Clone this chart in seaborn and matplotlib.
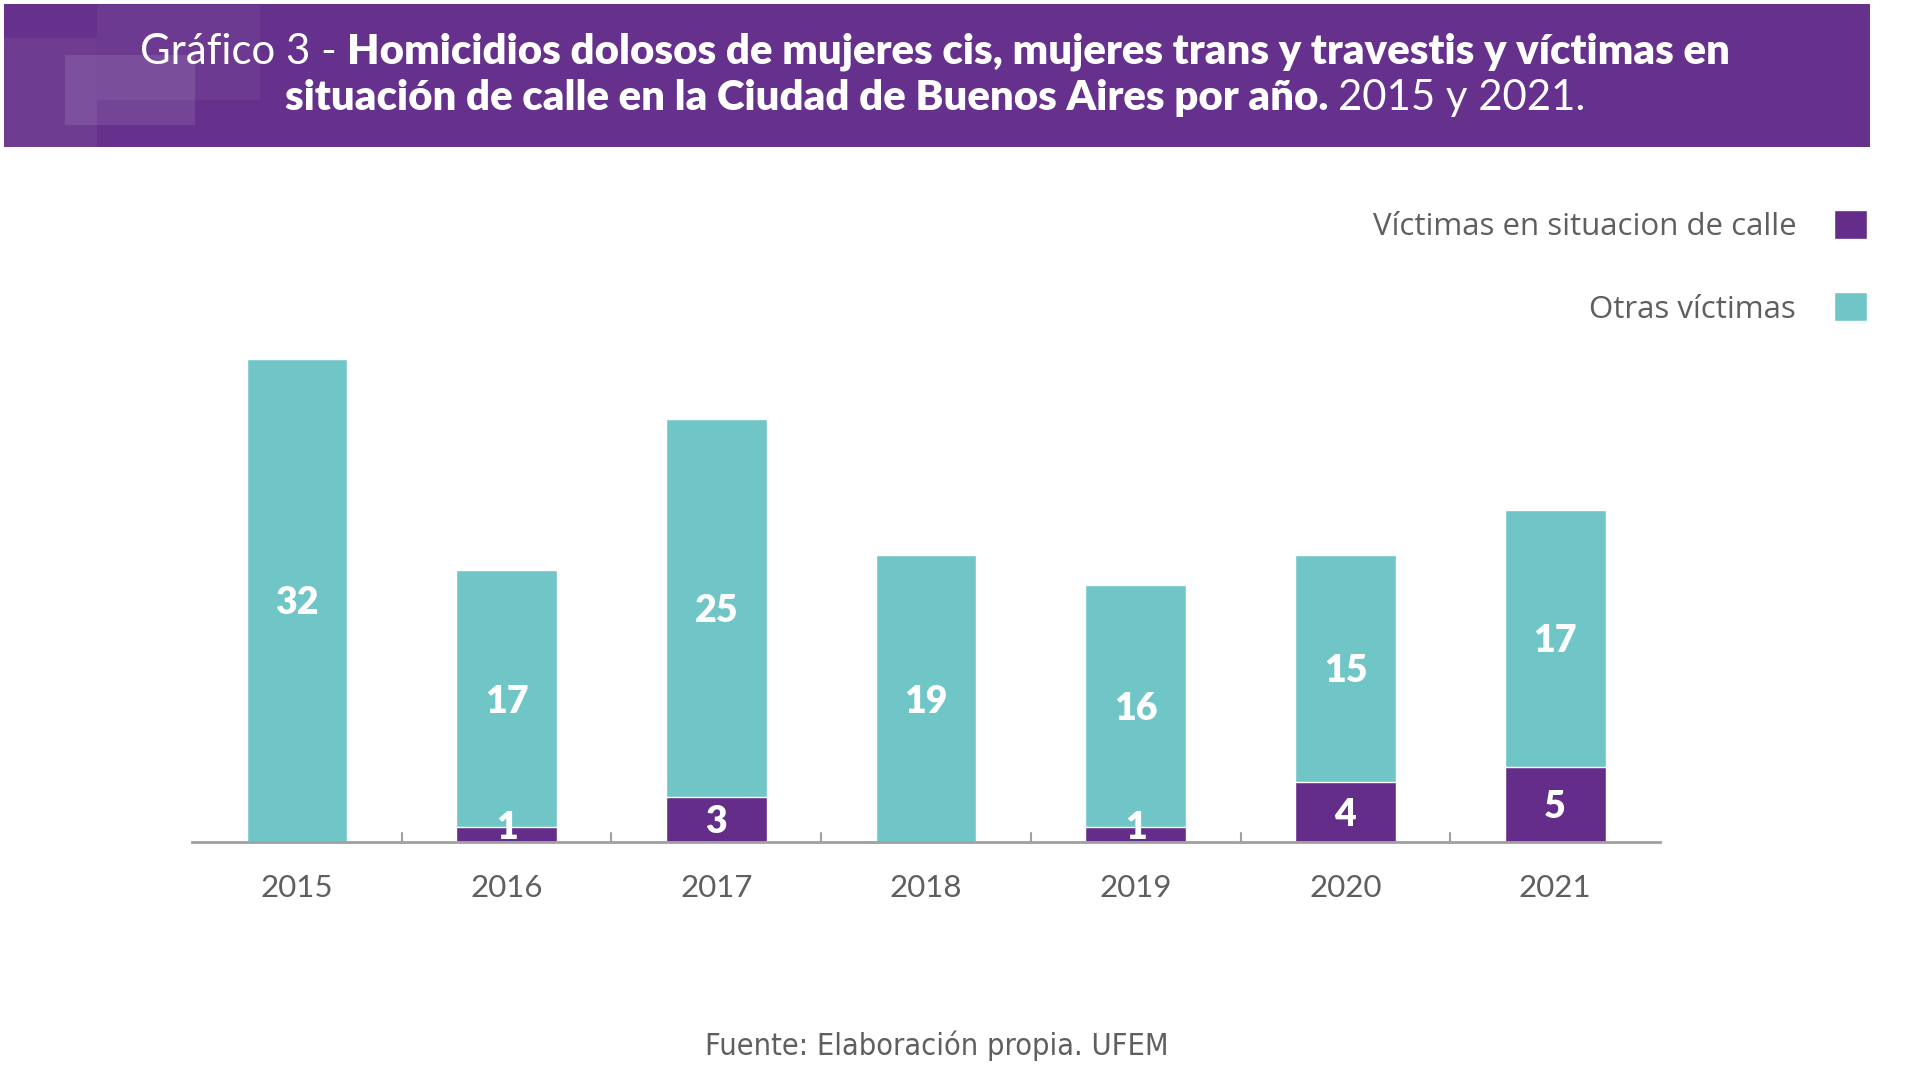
import matplotlib
matplotlib.use('Agg')
import matplotlib.pyplot as plt
from matplotlib.patches import Rectangle, Patch
import seaborn as sns
import pandas as pd

# data
years = ['2015', '2016', '2017', '2018', '2019', '2020', '2021']
calle = [0, 1, 3, 0, 1, 4, 5]
otras = [32, 17, 25, 19, 16, 15, 17]

purple = '#652d8a'
teal = '#70c6c6'
gray = '#5f5f5f'

df = pd.DataFrame({'year': years, 'calle': calle, 'otras': otras})
df['total'] = df['calle'] + df['otras']

sns.set_theme(style='white')
plt.rcParams['font.family'] = ['Lato', 'DejaVu Sans']

fig = plt.figure(figsize=(19.2, 10.8), dpi=100)
ax = fig.add_axes([0.1, 0.2204, 0.7646, 0.4472])

# stacked bars: total first, then calle on top of it
sns.barplot(data=df, x='year', y='total', color=teal, width=0.48, saturation=1, ax=ax)
sns.barplot(data=df, x='year', y='calle', color=purple, width=0.48, saturation=1, ax=ax)

ax.set_xlim(-0.5, 6.5)
ax.set_ylim(0, 32)
ax.set_xlabel('')
ax.set_ylabel('')
ax.set_yticks([])
for s in ['top', 'right', 'left']:
    ax.spines[s].set_visible(False)
ax.spines['bottom'].set_color('#a0a0a0')
ax.spines['bottom'].set_linewidth(2)

ax.tick_params(axis='x', length=0, pad=23, labelsize=22.5, labelcolor=gray)
# small separators between years
for i in range(len(years) - 1):
    ax.plot([i + 0.5, i + 0.5], [0, 0.6], color='#a0a0a0', lw=1.5, clip_on=False)

# value labels
for i, row in df.iterrows():
    ax.text(i, row['calle'] + row['otras'] / 2, str(row['otras']), ha='center', va='center_baseline',
            color='white', fontsize=27, fontweight='heavy')
    if row['calle'] > 0:
        ax.text(i, max(row['calle'] / 2, 1.1), str(row['calle']), ha='center', va='center_baseline',
                color='white', fontsize=27, fontweight='heavy')

# legend
handles = [Patch(facecolor=purple), Patch(facecolor=teal)]
labels = ['Víctimas en situacion de calle', 'Otras víctimas']
fig.legend(handles, labels, loc='upper right', bbox_to_anchor=(0.9868, 0.832),
           frameon=False, markerfirst=False, labelcolor=gray,
           handlelength=1.05, handleheight=1.05, handletextpad=1.2, labelspacing=1.62,
           prop={'family': 'Open Sans', 'size': 22.5})

# title banner
fig.patches.append(Rectangle((0.002, 1 - 147 / 1080), 0.972, 143 / 1080, transform=fig.transFigure,
                             facecolor='#65318c', edgecolor='none', zorder=0))
for x0, y0, x1, y1, a in [(4, 38, 97, 147, 0.06), (65, 55, 195, 125, 0.10), (97, 5, 260, 100, 0.05)]:
    fig.patches.append(Rectangle((x0 / 1920, 1 - y1 / 1080), (x1 - x0) / 1920, (y1 - y0) / 1080,
                                 transform=fig.transFigure, facecolor='white', alpha=a,
                                 edgecolor='none', zorder=1))

renderer = fig.canvas.get_renderer()
W = fig.get_figwidth() * fig.dpi


def draw_line(parts, y, size, cx=935):
    texts = []
    for s, w in parts:
        t = fig.text(0, y, s, fontsize=size, fontweight=w, color='white', va='center', ha='left')
        texts.append(t)
    widths = [t.get_window_extent(renderer).width for t in texts]
    x0 = cx - sum(widths) / 2
    for t, w in zip(texts, widths):
        t.set_x(x0 / W)
        x0 += w


draw_line([('Gráfico 3 - ', 'normal'),
           ('Homicidios dolosos de mujeres cis, mujeres trans y travestis y víctimas en', 'heavy')],
          1 - 52 / 1080, 30.2)
draw_line([('situación de calle en la Ciudad de Buenos Aires por año. ', 'heavy'),
           ('2015 y 2021.', 'normal')],
          1 - 98 / 1080, 30.2)

fig.text(937 / 1920, 1 - 1046 / 1080, 'Fuente: Elaboración propia. UFEM', ha='center', va='center',
         fontsize=22, color=gray, family='DejaVu Sans', stretch='condensed')

fig.savefig('out.png', dpi=100)
